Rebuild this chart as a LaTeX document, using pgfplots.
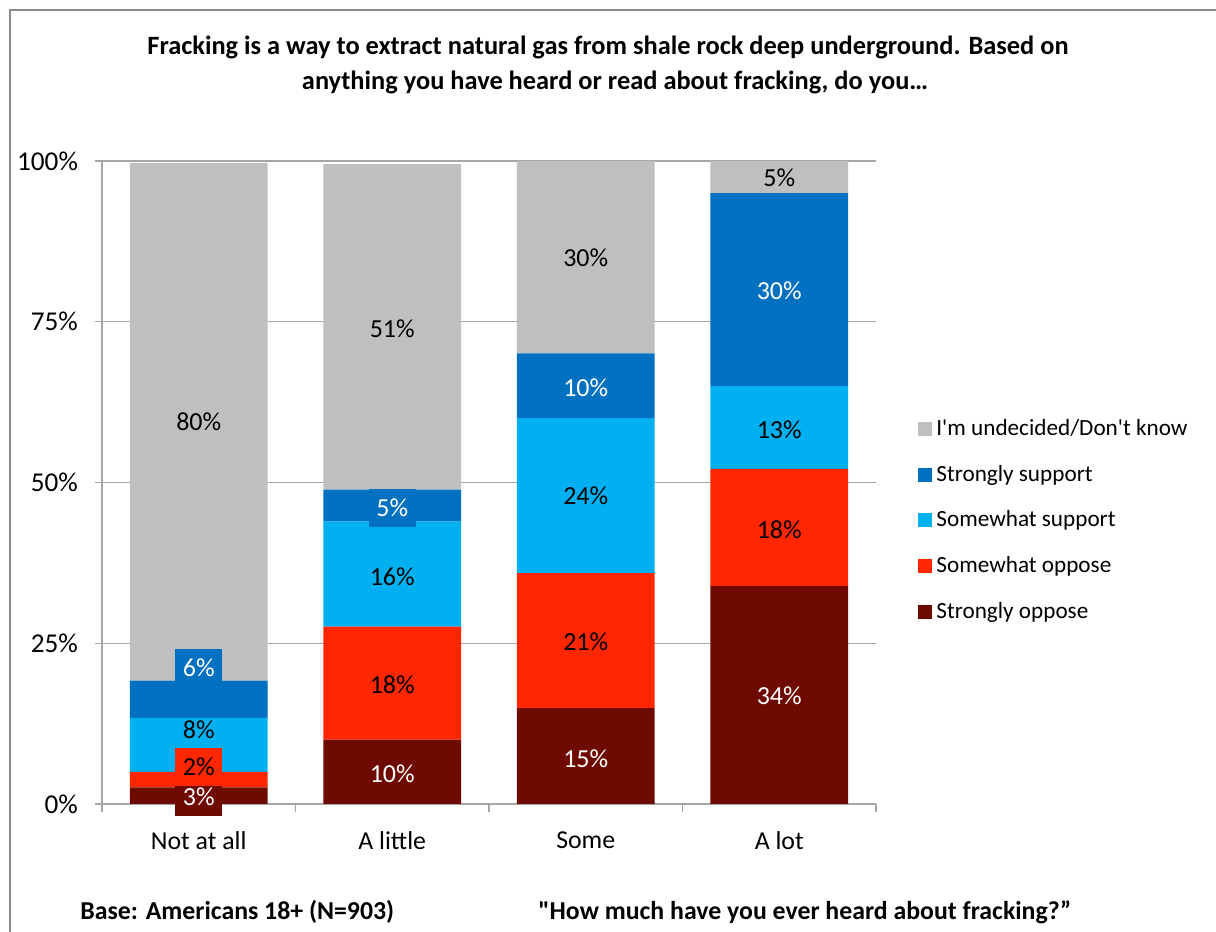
\documentclass[border=0pt]{standalone}
\usepackage{pgfplots}
\pgfplotsset{compat=1.18}
\usepackage{fontspec}
\setmainfont{Carlito}[Ligatures=TeXOff]
\definecolor{cgray}{HTML}{BFBFBF}
\definecolor{cdblue}{HTML}{0070C0}
\definecolor{clblue}{HTML}{00B0F0}
\definecolor{cred}{HTML}{FF2600}
\definecolor{cdred}{HTML}{6E0A00}
\definecolor{cgrid}{HTML}{A6A6A6}
\definecolor{cframe}{HTML}{8A8A8A}
\begin{document}
\begin{tikzpicture}
\path[use as bounding box] (0,0) rectangle (608pt,466pt);
\draw[cframe,line width=1.25pt] (5pt,-5pt) -- (5pt,461pt) -- (615pt,461pt);
\node[font=\fontsize{13.2}{16}\selectfont\bfseries] at (304pt,442.5pt) {Fracking is a way to extract natural gas from shale rock deep underground. Based on};
\node[font=\fontsize{13.2}{16}\selectfont\bfseries] at (307.5pt,425pt) {anything you have heard or read about fracking, do you…};
\node[font=\fontsize{12.9}{15}\selectfont\bfseries,anchor=west,inner sep=0pt] at (40pt,10pt) {Base: Americans 18+ (N=903)};
\node[font=\fontsize{12.9}{15}\selectfont\bfseries,anchor=west,inner sep=0pt] at (269pt,10pt) {"How much have you ever heard about fracking?”};
\begin{axis}[
  at={(51pt,64pt)}, anchor=south west,
  scale only axis, width=387pt, height=321.5pt,
  xmin=-0.5, xmax=3.5, ymin=0, ymax=100,
  ybar stacked, bar width=0.713,
  axis lines*=left,
  axis line style={cgrid,line width=0.6pt},
  tick align=outside,
  xtick={0,1,2,3},
  xticklabels={Not at all, A little, Some, A lot},
  major x tick style={draw=none},
  minor xtick={-0.5,0.5,1.5,2.5,3.5},
  minor x tick style={cgrid,line width=0.6pt},
  minor tick length=4pt,
  ytick={0,25,50,75,100},
  yticklabels={0\%,25\%,50\%,75\%,100\%},
  major y tick style={cgrid,line width=0.6pt},
  major tick length=3.5pt,
  ymajorgrids, grid style={cgrid,line width=0.6pt},
  xticklabel style={font=\fontsize{12.9}{15}\selectfont, yshift=-7pt},
  yticklabel style={font=\fontsize{13.6}{16}\selectfont, xshift=-5pt},
  legend style={at={(1.0465,0.441)}, anchor=west, draw=none, fill=none,
    font=\fontsize{11.6}{14}\selectfont, row sep=9.4pt,
    cells={anchor=west}},
  reverse legend,
  legend image code/.code={\fill[#1] (0pt,-3.5pt) rectangle (7pt,3.5pt);},
]
\addplot[fill=cdred,draw=none] coordinates {(0,2.6) (1,10.0) (2,14.9) (3,33.9)};
\addplot[fill=cred,draw=none] coordinates {(0,2.4) (1,17.6) (2,21.0) (3,18.2)};
\addplot[fill=clblue,draw=none] coordinates {(0,8.4) (1,16.3) (2,24.1) (3,12.9)};
\addplot[fill=cdblue,draw=none] coordinates {(0,5.8) (1,5.0) (2,10.1) (3,30.0)};
\addplot[fill=cgray,draw=none] coordinates {(0,80.5) (1,50.6) (2,29.9) (3,5.0)};
\legend{Strongly oppose, Somewhat oppose, Somewhat support, Strongly support, I'm undecided/Don't know}
\end{axis}
\begin{axis}[
  at={(51pt,64pt)}, anchor=south west,
  scale only axis, width=387pt, height=321.5pt,
  xmin=-0.5, xmax=3.5, ymin=0, ymax=100,
  hide axis, clip=false,
  nodes near coords, point meta=explicit symbolic,
  every node near coord/.append style={anchor=center, font=\fontsize{13}{15}\selectfont, minimum width=23.5pt, minimum height=19pt, inner sep=0pt},
]
% strongly oppose
\addplot[only marks, mark=none, every node near coord/.append style={fill=cdred,text=white}] coordinates {(0,1.1)[3\%] (1,4.7)[10\%] (2,7.1)[15\%] (3,16.8)[34\%]};
% somewhat oppose
\addplot[only marks, mark=none, every node near coord/.append style={fill=cred,text=black}] coordinates {(0,5.75)[2\%] (1,18.5)[18\%] (2,25.3)[21\%] (3,42.7)[18\%]};
% somewhat support
\addplot[only marks, mark=none, every node near coord/.append style={text=black}] coordinates {(0,11.5)[8\%] (1,35.3)[16\%] (2,47.9)[24\%] (3,58.2)[13\%]};
% strongly support
\addplot[only marks, mark=none, every node near coord/.append style={fill=cdblue,text=white}] coordinates {(0,21.2)[6\%] (1,46.0)[5\%] (2,64.8)[10\%] (3,79.8)[30\%]};
% undecided
\addplot[only marks, mark=none, every node near coord/.append style={text=black}] coordinates {(0,59.4)[80\%] (1,73.9)[51\%] (2,84.9)[30\%] (3,97.4)[5\%]};
\end{axis}
\end{tikzpicture}
\end{document}
